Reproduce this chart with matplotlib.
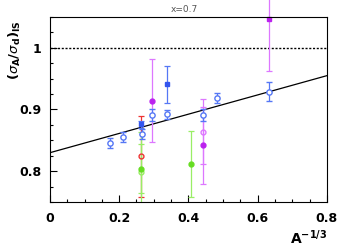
import numpy as np
import matplotlib.pyplot as plt
from matplotlib.ticker import MultipleLocator

# fitted points (open blue circles)
fit_x = [0.173, 0.212, 0.265, 0.295, 0.337, 0.441, 0.483, 0.632]
fit_y = [0.846, 0.856, 0.861, 0.891, 0.892, 0.891, 0.918, 0.929]
fit_err = [0.008, 0.008, 0.008, 0.010, 0.007, 0.010, 0.008, 0.015]

# blue filled squares
bsq_x = [0.263, 0.337]
bsq_y = [0.876, 0.941]
bsq_err = [0.006, 0.030]

# red open circle
red_x = [0.263]
red_y = [0.824]
red_err = [0.065]

# green points
gfill_x = [0.263, 0.407]
gfill_y = [0.804, 0.812]
gfill_err = [0.040, 0.053]
gopen_x = [0.263]
gopen_y = [0.798]
gopen_err = [0.065]

# magenta points
mfill_x = [0.295, 0.441]
mfill_y = [0.914, 0.842]
mfill_err = [0.067, 0.062]
mopen_x = [0.441]
mopen_y = [0.864]
mopen_err = [0.053]
msq_x = [0.632]
msq_y = [1.047]
msq_err = [0.085]

# linear fit
fit_a = 0.830
fit_b = 0.156

blue = '#3355ee'
lblue = '#5577f5'
red = '#ee3333'
green = '#66dd22'
lgreen = '#99ee66'
mag = '#bb22ee'
lmag = '#dd77ff'

fig = plt.figure(figsize=(3.37, 2.52), dpi=100)
ax = fig.add_axes([0.148, 0.198, 0.822, 0.735])

xs = np.array([0.0, 0.8])
ax.plot(xs, fit_a + fit_b * xs, color='black', lw=0.9)
ax.axhline(1.0, color='black', lw=1.0, ls=(0, (1.5, 1.2)))

ekw = dict(capsize=2, elinewidth=0.9, capthick=0.9, linestyle='none')
ax.errorbar(red_x, red_y, yerr=red_err, fmt='o', ms=3.5, mfc='none',
            mec=red, ecolor=red, **ekw)
ax.errorbar(gopen_x, gopen_y, yerr=gopen_err, fmt='o', ms=3.5, mfc='none',
            mec=lgreen, ecolor=lgreen, **ekw)
ax.errorbar(gfill_x, gfill_y, yerr=gfill_err, fmt='o', ms=3.5, color=green,
            ecolor=lgreen, **ekw)
ax.errorbar(mopen_x, mopen_y, yerr=mopen_err, fmt='o', ms=3.5, mfc='none',
            mec=lmag, ecolor=lmag, **ekw)
ax.errorbar(mfill_x, mfill_y, yerr=mfill_err, fmt='o', ms=3.5, color=mag,
            ecolor=lmag, **ekw)
ax.errorbar(msq_x, msq_y, yerr=msq_err, fmt='s', ms=3.5, color=mag,
            ecolor=lmag, clip_on=False, **ekw)
ax.errorbar(bsq_x, bsq_y, yerr=bsq_err, fmt='s', ms=3.5, color=blue,
            ecolor=lblue, **ekw)
ax.errorbar(fit_x, fit_y, yerr=fit_err, fmt='o', ms=3.8, mfc='white',
            mec=lblue, mew=1.0, ecolor=lblue, **ekw)

ax.set_xlim(0, 0.8)
ax.set_ylim(0.75, 1.05)
ax.xaxis.set_minor_locator(MultipleLocator(0.05))
ax.yaxis.set_minor_locator(MultipleLocator(0.025))
ax.set_xticks([0, 0.2, 0.4, 0.6, 0.8])
ax.set_xticklabels(['0', '0.2', '0.4', '0.6', '0.8'])
ax.set_yticks([0.8, 0.9, 1.0])
ax.set_yticklabels(['0.8', '0.9', '1'])
ax.tick_params(which='major', direction='in', length=5, width=0.8,
               labelsize=9, pad=6)
ax.tick_params(which='minor', direction='in', length=2.5, width=0.8)
ax.tick_params(axis='x', pad=7)
for lab in ax.get_xticklabels() + ax.get_yticklabels():
    lab.set_fontweight('bold')
for sp in ax.spines.values():
    sp.set_linewidth(0.8)

fig.text(0.546, 0.98, 'x=0.7', ha='center', va='top', fontsize=6.5,
         color='#555555')
fig.text(0.045, 0.80, r'$\mathbf{(}\sigma_{\mathbf{A}}\mathbf{/}\sigma_{\mathbf{d}}\mathbf{)_{IS}}$',
         rotation=90, ha='center', va='center', fontsize=9.5)
fig.text(0.915, 0.055, r'$\mathbf{A^{-1/3}}$', ha='center', va='center',
         fontsize=10)

fig.savefig('out.png', dpi=100)
